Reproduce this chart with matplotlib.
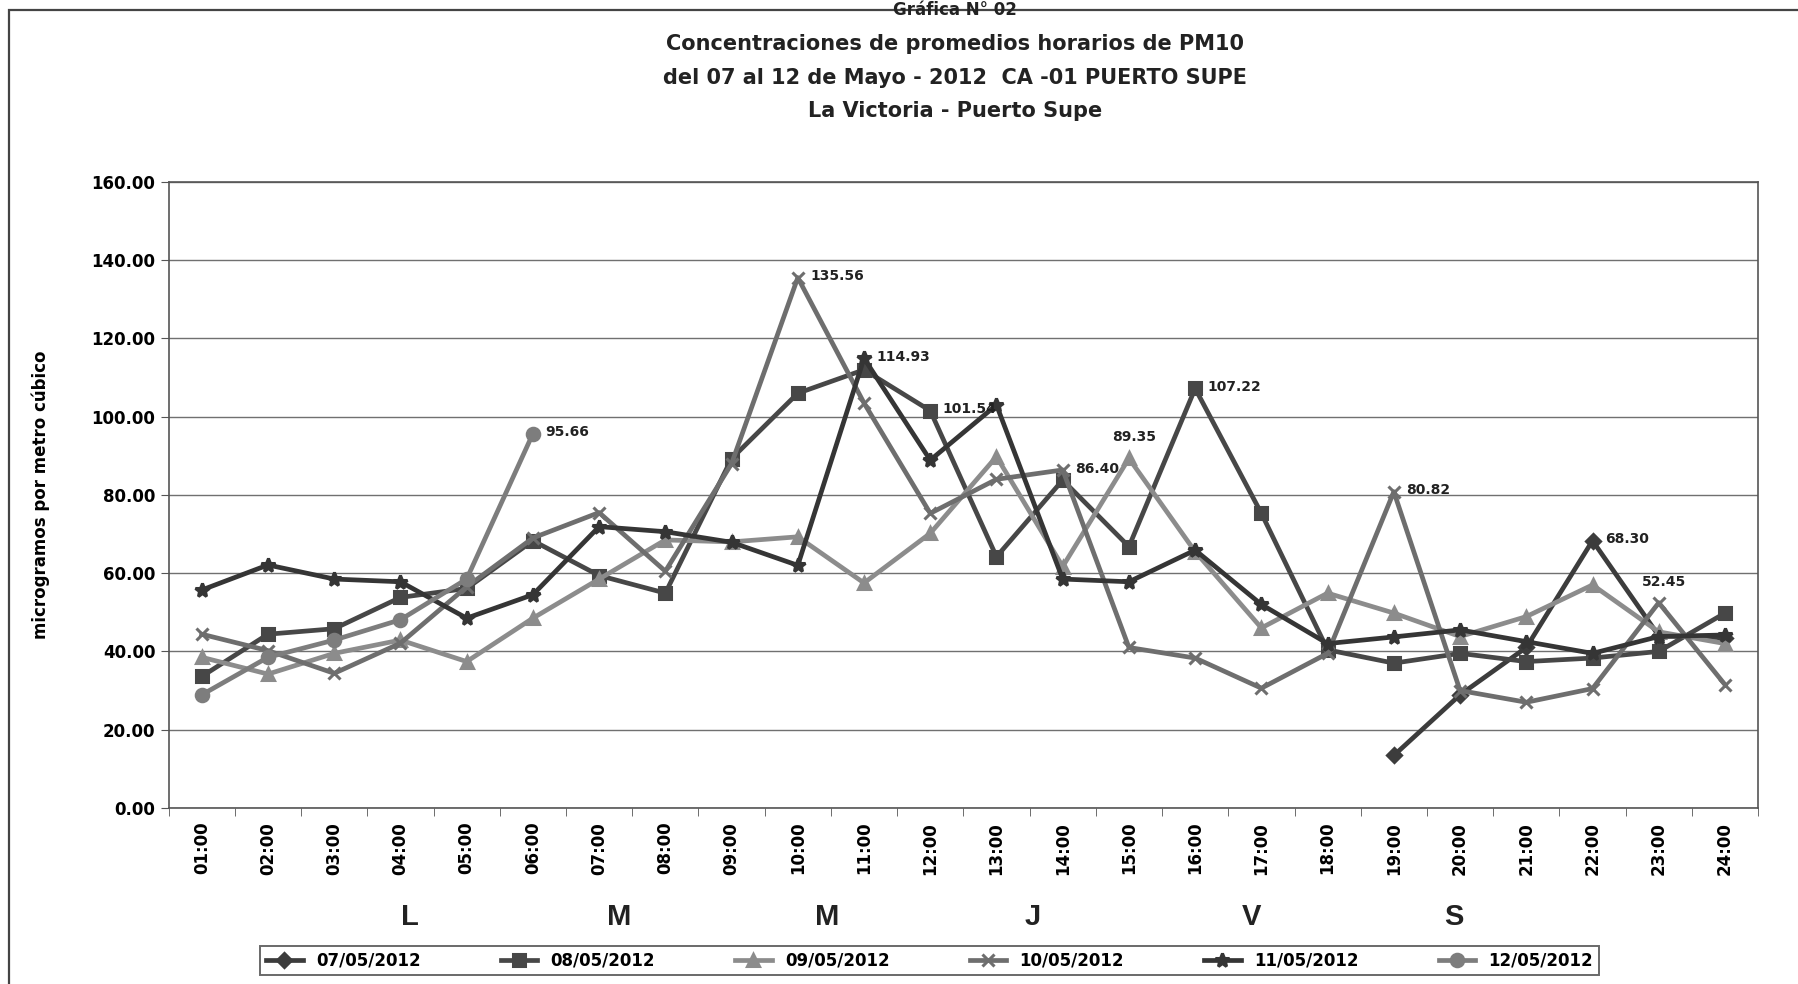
import numpy as np
import matplotlib.pyplot as plt
from matplotlib.patches import Rectangle
import matplotlib.transforms as mtransforms

# Hourly PM10 averages, station CA-01 Puerto Supe, 07-12 May 2012
# (grayscale)

hours = ["%02d:00" % h for h in range(1, 25)]
nan = np.nan

d0705 = [nan, nan, nan, nan, nan, nan, nan, nan, nan, nan, nan, nan,
         nan, nan, nan, nan, nan, nan, 13.4, 28.9, 41.0, 68.30, 44.0, 43.5]
d0805 = [33.6, 44.4, 45.8, 53.8, 56.1, 68.3, 59.4, 54.9, 89.3, 106.0, 112.0, 101.54,
         64.2, 83.8, 66.8, 107.22, 75.3, 40.4, 37.0, 39.5, 37.4, 38.3, 40.0, 49.8]
d0905 = [38.5, 34.2, 39.5, 42.9, 37.4, 48.5, 58.5, 68.5, 68.0, 69.3, 57.5, 70.2,
         89.8, 61.7, 89.35, 65.5, 46.0, 54.9, 49.8, 43.8, 48.9, 57.0, 45.0, 42.0]
d1005 = [44.4, 40.2, 34.4, 42.1, 56.5, 69.0, 75.5, 60.5, 88.0, 135.56, 103.5, 75.3,
         84.0, 86.40, 41.0, 38.3, 30.6, 39.5, 80.82, 30.0, 27.0, 30.5, 52.45, 31.5]
d1105 = [55.7, 62.1, 58.5, 57.8, 48.5, 54.5, 71.9, 70.6, 67.9, 62.0, 114.93, 88.9,
         103.0, 58.5, 57.8, 65.9, 52.0, 42.0, 43.7, 45.5, 42.5, 39.5, 43.8, 44.2]
d1205 = [28.9, 38.5, 42.9, 48.1, 58.5, 95.66, nan, nan, nan, nan, nan, nan,
         nan, nan, nan, nan, nan, nan, nan, nan, nan, nan, nan, nan]

series_names = ["07/05/2012", "08/05/2012", "09/05/2012", "10/05/2012", "11/05/2012", "12/05/2012"]
series_data = [d0705, d0805, d0905, d1005, d1105, d1205]

# points carrying a data label: (series index, hour)
label_series = [5, 3, 4, 1, 3, 2, 1, 3, 0, 3]
label_hours = [6, 10, 11, 12, 14, 15, 16, 19, 22, 23]

day_letters = ["L", "M", "M", "J", "V", "S"]
day_letter_pos = [4.15, 7.3, 10.45, 13.55, 16.85, 19.9]

colors = ["#3c3c3c", "#474747", "#8c8c8c", "#6e6e6e", "#353535", "#7d7d7d"]
markers = ["D", "s", "^", "x", "*", "o"]
msizes = [7, 8, 8, 9, 10, 9]

fig = plt.figure(figsize=(17.98, 9.84), dpi=100)
ax = fig.add_axes([0.0938, 0.179, 0.884, 0.636])

x = np.arange(1, 25)
for name, vals, c, m, ms in zip(series_names, series_data, colors, markers, msizes):
  ax.plot(x, vals, color=c, lw=3.4, marker=m, ms=ms, mec=c, mfc=c, mew=2.2, label=name)

# data labels
for si, h in zip(label_series, label_hours):
  v = series_data[si][h - 1]
  if h in (15, 23):
    ax.annotate("%.2f" % v, (h, v), xytext=(4, 10), textcoords="offset points",
                ha="center", va="bottom", fontsize=10, fontweight="bold", color="#222222")
  else:
    ax.annotate("%.2f" % v, (h, v), xytext=(9, 1), textcoords="offset points",
                ha="left", va="center", fontsize=10, fontweight="bold", color="#222222")

ax.set_xlim(0.5, 24.5)
ax.set_ylim(0, 160)
ax.set_yticks(np.arange(0, 161, 20))
ax.set_yticklabels(["%.2f" % v for v in np.arange(0, 161, 20)], fontsize=12, fontweight="bold")
ax.set_xticks(x)
ax.set_xticklabels(hours, rotation=90, fontsize=12, fontweight="bold")
ax.tick_params(axis="x", which="major", length=0, pad=10)
ax.set_xticks(np.arange(0.5, 25, 1), minor=True)
ax.tick_params(axis="x", which="minor", length=6, color="#555555")
ax.tick_params(axis="y", length=6, color="#555555")
ax.grid(axis="y", color="#707070", lw=1.0)
ax.set_axisbelow(True)
for s in ax.spines.values():
  s.set_color("#555555")
  s.set_linewidth(1.2)

ax.set_ylabel("microgramos por metro cúbico", fontsize=12, fontweight="bold", labelpad=30)

# title block
fig.text(0.531, 0.955, "Concentraciones de promedios horarios de PM10", ha="center", va="center",
         fontsize=15, fontweight="bold", color="#222222")
fig.text(0.531, 0.921, "del 07 al 12 de Mayo - 2012  CA -01 PUERTO SUPE", ha="center", va="center",
         fontsize=15, fontweight="bold", color="#222222")
fig.text(0.531, 0.887, "La Victoria - Puerto Supe", ha="center", va="center",
         fontsize=15, fontweight="bold", color="#222222")
fig.text(0.531, 0.999, "Gráfica N° 02", ha="center", va="top", fontsize=12, fontweight="bold", color="#222222")

# outer chart frame (cut by the scan on the right and bottom)
fig.patches.append(Rectangle((0.005, -0.05), 1.2, 1.04, transform=fig.transFigure,
                             fill=False, edgecolor="#444444", lw=1.6))

# day letters under the hour labels
trans = mtransforms.blended_transform_factory(ax.transData, fig.transFigure)
for lt, px in zip(day_letters, day_letter_pos):
  ax.text(px, 0.068, lt, transform=trans, ha="center", va="center", fontsize=21,
          fontweight="bold", family=["Liberation Sans", "DejaVu Sans"], color="#222222")

leg = fig.legend(loc="center", bbox_to_anchor=(0.517, 0.024), ncol=6, frameon=True, fancybox=False,
                 edgecolor="#444444", handlelength=2.2, columnspacing=4.8,
                 borderpad=0.35, prop={"weight": "bold", "size": 12})
leg.get_frame().set_linewidth(1.4)

fig.savefig("out.png", dpi=100)
